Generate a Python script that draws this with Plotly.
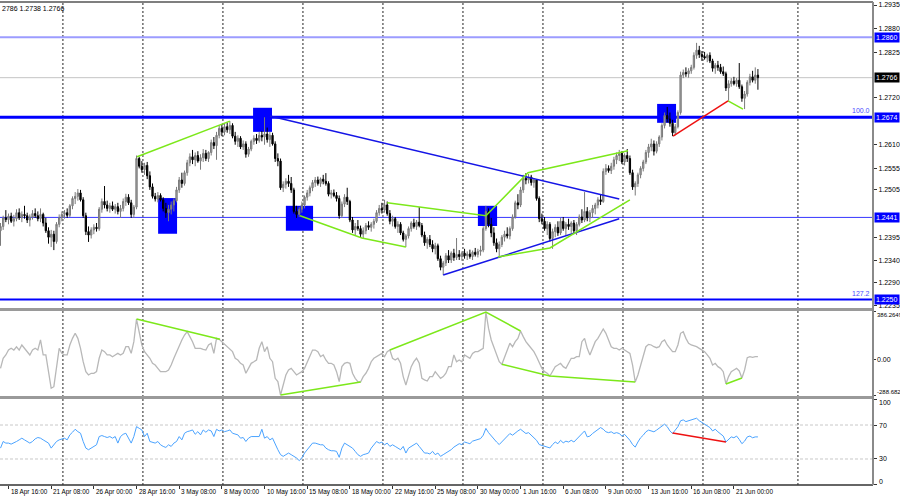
import plotly.graph_objects as go

# ---------------- data (4H bars) ----------------
opens = [
1.2410,1.2420,1.2440,1.2436,1.2444,1.2432,1.2438,1.2452,1.2440,1.2448,
1.2445,1.2435,1.2442,1.2450,1.2445,1.2438,1.2448,1.2428,1.2410,1.2395,
1.2402,1.2385,1.2425,1.2440,1.2448,1.2452,1.2446,1.2468,1.2485,1.2490,
1.2498,1.2482,1.2445,1.2408,1.2400,1.2412,1.2418,1.2415,1.2460,1.2478,
1.2470,1.2462,1.2468,1.2460,1.2466,1.2455,1.2462,1.2478,1.2488,1.2475,
1.2448,1.2465,1.2578,1.2560,1.2552,1.2562,1.2538,1.2512,1.2490,1.2484,
1.2492,1.2482,1.2462,1.2452,1.2460,1.2470,1.2480,1.2505,1.2528,1.2520,
1.2545,1.2568,1.2582,1.2575,1.2585,1.2572,1.2580,1.2590,1.2578,1.2592,
1.2615,1.2608,1.2632,1.2648,1.2640,1.2652,1.2645,1.2655,1.2630,1.2618,
1.2625,1.2605,1.2612,1.2588,1.2600,1.2618,1.2625,1.2620,1.2632,1.2628,
1.2635,1.2622,1.2632,1.2612,1.2578,1.2572,1.2510,1.2518,1.2525,1.2520,
1.2505,1.2455,1.2448,1.2460,1.2470,1.2488,1.2498,1.2510,1.2522,1.2528,
1.2520,1.2530,1.2525,1.2520,1.2495,1.2498,1.2492,1.2485,1.2445,1.2472,
1.2488,1.2478,1.2435,1.2412,1.2420,1.2415,1.2402,1.2410,1.2422,1.2418,
1.2425,1.2432,1.2452,1.2462,1.2458,1.2470,1.2450,1.2432,1.2438,1.2420,
1.2425,1.2405,1.2390,1.2398,1.2415,1.2428,1.2420,1.2430,1.2422,1.2400,
1.2382,1.2390,1.2378,1.2368,1.2375,1.2345,1.2325,1.2335,1.2352,1.2342,
1.2358,1.2348,1.2355,1.2350,1.2358,1.2352,1.2356,1.2350,1.2360,1.2355,
1.2362,1.2365,1.2415,1.2455,1.2425,1.2405,1.2382,1.2368,1.2378,1.2395,
1.2402,1.2398,1.2415,1.2442,1.2475,1.2470,1.2505,1.2532,1.2528,1.2535,
1.2522,1.2528,1.2485,1.2438,1.2432,1.2415,1.2425,1.2392,1.2408,1.2418,
1.2405,1.2432,1.2415,1.2425,1.2420,1.2428,1.2410,1.2425,1.2442,1.2435,
1.2455,1.2440,1.2452,1.2462,1.2470,1.2482,1.2478,1.2548,1.2555,1.2550,
1.2560,1.2575,1.2585,1.2590,1.2570,1.2585,1.2578,1.2545,1.2512,1.2520,
1.2540,1.2555,1.2570,1.2592,1.2605,1.2612,1.2595,1.2612,1.2628,1.2655,
1.2678,1.2670,1.2660,1.2638,1.2652,1.2685,1.2772,1.2778,1.2775,1.2782,
1.2790,1.2818,1.2830,1.2820,1.2815,1.2812,1.2818,1.2805,1.2788,1.2795,
1.2790,1.2780,1.2775,1.2742,1.2752,1.2758,1.2752,1.2760,1.2745,1.2718,
1.2728,1.2755,1.2768,1.2760,1.2772]
highs = [
1.2428,1.2445,1.2458,1.2450,1.2452,1.2447,1.2460,1.2462,1.2455,1.2468,
1.2452,1.2448,1.2458,1.2462,1.2455,1.2462,1.2452,1.2440,1.2418,1.2412,
1.2410,1.2430,1.2448,1.2455,1.2458,1.2462,1.2472,1.2490,1.2500,1.2507,
1.2505,1.2488,1.2452,1.2420,1.2418,1.2425,1.2428,1.2465,1.2485,1.2514,
1.2480,1.2475,1.2478,1.2472,1.2475,1.2470,1.2485,1.2496,1.2495,1.2482,
1.2470,1.2585,1.2582,1.2572,1.2568,1.2570,1.2548,1.2520,1.2498,1.2500,
1.2497,1.2488,1.2475,1.2470,1.2478,1.2485,1.2512,1.2535,1.2545,1.2550,
1.2575,1.2590,1.2598,1.2592,1.2595,1.2588,1.2600,1.2598,1.2595,1.2622,
1.2628,1.2640,1.2655,1.2658,1.2660,1.2662,1.2665,1.2660,1.2640,1.2632,
1.2630,1.2620,1.2618,1.2605,1.2622,1.2632,1.2635,1.2640,1.2642,1.2674,
1.2650,1.2640,1.2638,1.2618,1.2590,1.2578,1.2525,1.2532,1.2540,1.2535,
1.2510,1.2468,1.2465,1.2478,1.2492,1.2505,1.2515,1.2528,1.2535,1.2536,
1.2534,1.2540,1.2544,1.2525,1.2505,1.2506,1.2500,1.2492,1.2478,1.2495,
1.2510,1.2482,1.2442,1.2428,1.2435,1.2422,1.2418,1.2428,1.2432,1.2430,
1.2438,1.2458,1.2470,1.2475,1.2482,1.2478,1.2458,1.2445,1.2442,1.2432,
1.2430,1.2410,1.2402,1.2420,1.2432,1.2438,1.2435,1.2465,1.2428,1.2408,
1.2395,1.2400,1.2388,1.2382,1.2380,1.2352,1.2340,1.2358,1.2365,1.2362,
1.2368,1.2393,1.2365,1.2362,1.2368,1.2362,1.2366,1.2364,1.2370,1.2368,
1.2375,1.2420,1.2468,1.2462,1.2440,1.2418,1.2392,1.2385,1.2400,1.2410,
1.2418,1.2420,1.2448,1.2480,1.2495,1.2512,1.2540,1.2544,1.2542,1.2540,
1.2532,1.2530,1.2490,1.2450,1.2442,1.2432,1.2430,1.2415,1.2425,1.2432,
1.2440,1.2442,1.2430,1.2438,1.2432,1.2435,1.2430,1.2448,1.2460,1.2500,
1.2465,1.2458,1.2470,1.2475,1.2488,1.2495,1.2555,1.2565,1.2562,1.2568,
1.2582,1.2592,1.2598,1.2595,1.2590,1.2600,1.2585,1.2552,1.2525,1.2545,
1.2560,1.2575,1.2598,1.2612,1.2624,1.2620,1.2618,1.2632,1.2660,1.2685,
1.2698,1.2685,1.2668,1.2658,1.2690,1.2780,1.2785,1.2790,1.2788,1.2796,
1.2825,1.2847,1.2840,1.2828,1.2826,1.2822,1.2825,1.2810,1.2800,1.2805,
1.2798,1.2792,1.2780,1.2760,1.2765,1.2768,1.2765,1.2800,1.2750,1.2735,
1.2760,1.2775,1.2782,1.2790,1.2786]
lows = [
1.2375,1.2412,1.2430,1.2425,1.2428,1.2420,1.2432,1.2435,1.2430,1.2438,
1.2428,1.2420,1.2436,1.2440,1.2432,1.2430,1.2420,1.2405,1.2380,1.2372,
1.2365,1.2380,1.2418,1.2432,1.2438,1.2440,1.2442,1.2460,1.2472,1.2480,
1.2478,1.2440,1.2400,1.2384,1.2392,1.2402,1.2408,1.2410,1.2452,1.2462,
1.2455,1.2452,1.2456,1.2450,1.2448,1.2440,1.2455,1.2468,1.2470,1.2440,
1.2440,1.2460,1.2555,1.2545,1.2540,1.2530,1.2505,1.2485,1.2478,1.2476,
1.2478,1.2455,1.2440,1.2432,1.2448,1.2455,1.2476,1.2498,1.2510,1.2515,
1.2538,1.2560,1.2565,1.2560,1.2568,1.2552,1.2570,1.2572,1.2570,1.2585,
1.2600,1.2575,1.2625,1.2630,1.2632,1.2638,1.2635,1.2625,1.2610,1.2605,
1.2600,1.2598,1.2580,1.2582,1.2595,1.2610,1.2612,1.2615,1.2618,1.2610,
1.2615,1.2605,1.2608,1.2570,1.2560,1.2505,1.2500,1.2508,1.2512,1.2498,
1.2450,1.2440,1.2442,1.2452,1.2462,1.2480,1.2490,1.2502,1.2512,1.2515,
1.2512,1.2518,1.2515,1.2490,1.2485,1.2488,1.2478,1.2438,1.2440,1.2465,
1.2470,1.2430,1.2405,1.2400,1.2410,1.2395,1.2393,1.2402,1.2412,1.2408,
1.2415,1.2428,1.2445,1.2450,1.2452,1.2445,1.2425,1.2420,1.2415,1.2405,
1.2400,1.2385,1.2372,1.2392,1.2408,1.2415,1.2412,1.2418,1.2395,1.2375,
1.2368,1.2372,1.2360,1.2355,1.2340,1.2318,1.2307,1.2328,1.2335,1.2335,
1.2340,1.2342,1.2342,1.2340,1.2345,1.2342,1.2345,1.2342,1.2350,1.2348,
1.2352,1.2360,1.2410,1.2418,1.2395,1.2375,1.2360,1.2349,1.2372,1.2385,
1.2392,1.2390,1.2410,1.2438,1.2460,1.2465,1.2498,1.2518,1.2520,1.2515,
1.2510,1.2480,1.2430,1.2425,1.2410,1.2400,1.2385,1.2368,1.2395,1.2398,
1.2400,1.2410,1.2398,1.2412,1.2405,1.2402,1.2400,1.2420,1.2428,1.2430,
1.2432,1.2430,1.2440,1.2448,1.2462,1.2470,1.2475,1.2540,1.2545,1.2542,
1.2552,1.2565,1.2572,1.2565,1.2562,1.2570,1.2540,1.2505,1.2492,1.2512,
1.2532,1.2548,1.2565,1.2580,1.2595,1.2585,1.2590,1.2605,1.2620,1.2648,
1.2662,1.2652,1.2630,1.2632,1.2648,1.2680,1.2765,1.2768,1.2766,1.2775,
1.2785,1.2810,1.2812,1.2805,1.2808,1.2802,1.2800,1.2780,1.2775,1.2782,
1.2775,1.2770,1.2735,1.2712,1.2745,1.2748,1.2745,1.2740,1.2710,1.2693,
1.2722,1.2748,1.2755,1.2752,1.2738]
closes = [
1.2420,1.2440,1.2436,1.2444,1.2432,1.2438,1.2452,1.2440,1.2448,1.2445,
1.2435,1.2442,1.2450,1.2445,1.2438,1.2448,1.2428,1.2410,1.2395,1.2402,
1.2385,1.2425,1.2440,1.2448,1.2452,1.2446,1.2468,1.2485,1.2490,1.2498,
1.2482,1.2445,1.2408,1.2400,1.2412,1.2418,1.2415,1.2460,1.2478,1.2470,
1.2462,1.2468,1.2460,1.2466,1.2455,1.2462,1.2478,1.2488,1.2475,1.2448,
1.2465,1.2578,1.2560,1.2552,1.2562,1.2538,1.2512,1.2490,1.2484,1.2492,
1.2482,1.2462,1.2452,1.2460,1.2470,1.2480,1.2505,1.2528,1.2520,1.2545,
1.2568,1.2582,1.2575,1.2585,1.2572,1.2580,1.2590,1.2578,1.2592,1.2615,
1.2608,1.2632,1.2648,1.2640,1.2652,1.2645,1.2655,1.2630,1.2618,1.2625,
1.2605,1.2612,1.2588,1.2600,1.2618,1.2625,1.2620,1.2632,1.2628,1.2635,
1.2622,1.2632,1.2612,1.2578,1.2572,1.2510,1.2518,1.2525,1.2520,1.2505,
1.2455,1.2448,1.2460,1.2470,1.2488,1.2498,1.2510,1.2522,1.2528,1.2520,
1.2530,1.2525,1.2520,1.2495,1.2498,1.2492,1.2485,1.2445,1.2472,1.2488,
1.2478,1.2435,1.2412,1.2420,1.2415,1.2402,1.2410,1.2422,1.2418,1.2425,
1.2432,1.2452,1.2462,1.2458,1.2470,1.2450,1.2432,1.2438,1.2420,1.2425,
1.2405,1.2390,1.2398,1.2415,1.2428,1.2420,1.2430,1.2422,1.2400,1.2382,
1.2390,1.2378,1.2368,1.2375,1.2345,1.2325,1.2335,1.2352,1.2342,1.2358,
1.2348,1.2355,1.2350,1.2358,1.2352,1.2356,1.2350,1.2360,1.2355,1.2362,
1.2365,1.2415,1.2455,1.2425,1.2405,1.2382,1.2368,1.2378,1.2395,1.2402,
1.2398,1.2415,1.2442,1.2475,1.2470,1.2505,1.2532,1.2528,1.2535,1.2522,
1.2528,1.2485,1.2438,1.2432,1.2415,1.2425,1.2392,1.2408,1.2418,1.2405,
1.2432,1.2415,1.2425,1.2420,1.2428,1.2410,1.2425,1.2442,1.2435,1.2455,
1.2440,1.2452,1.2462,1.2470,1.2482,1.2478,1.2548,1.2555,1.2550,1.2560,
1.2575,1.2585,1.2590,1.2570,1.2585,1.2578,1.2545,1.2512,1.2520,1.2540,
1.2555,1.2570,1.2592,1.2605,1.2612,1.2595,1.2612,1.2628,1.2655,1.2678,
1.2670,1.2660,1.2638,1.2652,1.2685,1.2772,1.2778,1.2775,1.2782,1.2790,
1.2818,1.2830,1.2820,1.2815,1.2812,1.2818,1.2805,1.2788,1.2795,1.2790,
1.2780,1.2775,1.2742,1.2752,1.2758,1.2752,1.2760,1.2745,1.2718,1.2728,
1.2755,1.2768,1.2760,1.2772,1.2766]

cci = [
-72,10,37,77,91,77,104,77,118,91,
64,37,77,91,77,159,37,37,-99,-234,
-221,-45,91,50,37,37,118,172,213,172,
91,-18,-99,-126,-112,-112,-99,10,77,64,
37,37,23,37,50,37,50,104,104,50,
145,329,226,118,64,37,10,-31,-45,-72,
-99,-99,-99,-85,-45,10,64,118,159,199,
226,186,145,91,91,91,83,77,118,132,
50,172,164,145,118,104,83,64,10,-4,
-31,-45,-112,-72,-31,-18,-4,91,145,64,
104,10,-18,-153,-180,-288.68,-207,-126,-85,-72,
-99,-126,-112,-99,-72,-18,37,77,77,64,
23,37,-4,-31,-31,-45,-99,-180,-58,-31,
-23,-31,-112,-153,-180,-183,-139,-112,-72,-18,
10,23,37,50,23,64,77,10,-4,10,
-31,-139,-207,-139,-58,-18,10,-31,-153,-166,
-175,-139,-139,-99,-126,-153,-139,-112,-58,-58,
37,-18,-4,-18,37,23,10,50,64,64,
77,91,386.26,253,159,104,50,-18,-39,23,
77,132,104,145,172,232,186,145,118,91,
64,23,-31,-72,-99,-112,-134,-99,-58,-45,
-31,-58,-72,-31,10,10,23,23,145,172,
91,37,91,145,172,213,248,213,159,104,
91,91,77,91,77,64,50,-45,-183,-126,
-45,37,104,123,118,104,96,104,145,159,
118,91,64,64,118,213,226,172,132,118,
112,104,91,77,64,37,10,-45,-31,-58,
-72,-99,-199,-139,-99,-85,-72,-93,-150,-85,
15,23,18,23,23]

rsi = [
42.8,50.6,48.7,48.7,47.5,48.7,50.6,52.5,54.5,52.5,
50.6,48.7,50.6,53.7,55.3,54.5,52.5,50.6,48.7,42.8,
46.7,50.6,52.5,53.7,54.5,52.5,58.4,61.5,65,62.2,
60.3,50.6,42.8,40.9,42.8,44.8,46.7,56.4,57.6,56.4,
55.3,56.4,54.5,56.4,48.7,56.4,59.1,60.3,54.5,48.7,
56.4,68.1,66.1,64.2,56.4,60.3,50.6,49.8,48.7,50.6,
46.7,44.8,43.6,46.7,44.8,48.7,50.6,56.4,52.5,60.3,
62.2,63,64.2,59.1,62.2,58.4,64.2,61.5,64.2,63,
56.4,65,63,64.2,62.2,63,64.2,60.3,59.1,58.4,
54.5,55.3,50.6,54.5,56.4,56.4,55.6,56.4,65,54.5,
56.4,52.5,54.5,46.7,40.9,35.1,33.1,35.1,37,35.1,
33.1,31.2,28.1,31.2,37,40.9,44.8,48.7,48.7,47.5,
46.7,46.7,42.8,40.9,39.7,39.7,39,32,42.8,48.7,
46.7,44.8,42.8,39,35.1,33.1,35.1,35.9,37,42.8,
46.7,50.6,48.7,49.8,46.7,48.7,44.8,46.7,44.8,42.8,
40.9,44.8,37,42.8,44.8,46.7,48.7,44.8,40.9,37,
37,35.9,39,35.1,37,33.1,35.1,37,39,
41,44,46,48,47,50,49,48,51,52,53,
54,58,66,61,57,53,50,47,50,54,
57,60,58,61,63,65,62,60,61,58,
56,52,47,46,45,44,43,47,50,48,
52,49,51,50,52,50,53,56,59,63,
56,57,60,62,65,67,65,62,61,62,
60,61,60,57,59,56,52,47,44,50,
55,58,62,64,63,62,64,66,68,71,
68,63,60,64,68,75,76,74,75,76,
77,78,75,73,72,70,67,63,65,62,
60,57,50,53,56,55,57,53,48,51,
56,57,55,56,56]

tick_bars = [-13, 3, 19, 35, 51, 67, 83, 99, 115, 131, 147, 163, 179, 195, 211, 227, 243, 259, 275]
tick_labels = ["14 Apr 00:00", "18 Apr 16:00", "21 Apr 08:00", "26 Apr 00:00", "28 Apr 16:00",
               "3 May 08:00", "8 May 00:00", "10 May 16:00", "15 May 08:00", "18 May 00:00",
               "22 May 16:00", "25 May 08:00", "30 May 00:00", "1 Jun 16:00", "6 Jun 08:00",
               "9 Jun 00:00", "13 Jun 16:00", "16 Jun 08:00", "21 Jun 00:00"]
grid_bars = [23.4, 53.4, 83.4, 113.4, 143.4, 173.4, 203.4, 233.4, 263.4, 299.0]

price_ticks = [1.2935, 1.2880, 1.2825, 1.2720, 1.2610, 1.2555, 1.2505, 1.2395, 1.2340, 1.2290, 1.2235]
levels = [1.2860, 1.2766, 1.2674, 1.2441, 1.2250]
level_labels = ["1.2860", "1.2766", "1.2674", "1.2441", "1.2250"]
level_colors = ["#9c9cff", "#c4c4c4", "#0000ff", "#3636ff", "#0000ff"]
level_widths = [2, 1, 3, 1, 2]
level_box = ["#0000ff", "#000000", "#0000ff", "#0000ff", "#0000ff"]

cci_ticks = [386.2649, 0, -288.682]
cci_labels = ["386.2649", "0.00", "-288.682"]
rsi_ticks = [100, 70, 30, 0]
rsi_labels = ["100", "70", "30", "0"]

# zones: (bar start, bar end, price top, price bottom)
zones = [(59.1, 66.2, 1.2486, 1.2403), (94.7, 101.8, 1.2696, 1.2640), (107.0, 117.2, 1.2468, 1.2410),
         (179.0, 186.2, 1.2468, 1.2421), (246.2, 253.3, 1.2705, 1.2661)]
blue_lines = [[(101, 1.2677), (232, 1.2484)], [(166, 1.2307), (232, 1.2438)]]
green_price = [[(51.2, 1.2582), (86, 1.2665)],
               [(112.3, 1.2445), (135.5, 1.2393), (152, 1.2372)],
               [(145, 1.2475), (182, 1.2445), (197.8, 1.2545), (235.3, 1.2596)],
               [(186.5, 1.2349), (206, 1.2370), (236, 1.2482)],
               [(272.8, 1.2712), (278.4, 1.2693)]]
red_price = [(252.2, 1.2630), (272.8, 1.2712)]
green_cci = [[(51, 329), (82.3, 164)], [(105, -288.68), (135, -183)],
             [(146, 77), (182, 386.26), (195, 232)],
             [(188, -39), (206, -134), (238, -183)], [(272, -199), (278, -150)]]
red_rsi = [(252, 60.6), (272, 50)]

FONT = "Liberation Sans"
FS = 7
XFS = 6.4
bars = list(range(len(closes)))

fig = go.Figure()
fig.add_trace(go.Candlestick(
    x=bars, open=opens, high=highs, low=lows, close=closes,
    increasing=dict(line=dict(color="#7a7a7a", width=1), fillcolor="#a8a8a8"),
    decreasing=dict(line=dict(color="#000000", width=1), fillcolor="#000000"),
    whiskerwidth=0, xaxis="x", yaxis="y", hoverinfo="skip"))

def add_poly(pts, color, yaxis, width=1.5):
    fig.add_trace(go.Scatter(x=[p[0] for p in pts], y=[p[1] for p in pts], mode="lines",
                             line=dict(color=color, width=width), xaxis="x", yaxis=yaxis,
                             hoverinfo="skip"))

for pts in blue_lines:
    add_poly(pts, "#1515e6", "y", 1.5)
for pts in green_price:
    add_poly(pts, "#7ce81a", "y", 1.5)
add_poly(red_price, "#ee1111", "y", 1.5)

fig.add_trace(go.Scatter(x=bars, y=cci, mode="lines", line=dict(color="#b8b8b8", width=1.3),
                         xaxis="x", yaxis="y2", hoverinfo="skip"))
for pts in green_cci:
    add_poly(pts, "#7ce81a", "y2", 1.5)

fig.add_trace(go.Scatter(x=bars, y=rsi, mode="lines", line=dict(color="#4aa3ff", width=1),
                         xaxis="x", yaxis="y3", hoverinfo="skip"))
add_poly(red_rsi, "#ee1111", "y3", 1.5)

shapes = []
for gb in grid_bars:
    shapes.append(dict(type="line", xref="x", yref="paper", x0=gb, x1=gb, y0=0, y1=1,
                       line=dict(color="#222222", width=1, dash="2px,2px"), layer="below"))
for x0, x1, top, bot in zones:
    shapes.append(dict(type="rect", xref="x", yref="y", x0=x0, x1=x1, y0=bot, y1=top,
                       fillcolor="#0000ff", line=dict(width=0), layer="below"))
for lv, col, w in zip(levels, level_colors, level_widths):
    shapes.append(dict(type="line", xref="paper", yref="y", x0=0, x1=1, y0=lv, y1=lv,
                       line=dict(color=col, width=w), layer="below"))
for lv in (70, 30):
    shapes.append(dict(type="line", xref="paper", yref="y3", x0=0, x1=1, y0=lv, y1=lv,
                       line=dict(color="#c8c8c8", width=1, dash="3px,2px"), layer="below"))
shapes += [
    dict(type="line", xref="paper", yref="paper", x0=0, x1=1, y0=1, y1=1, line=dict(color="#555555", width=1.5)),
    dict(type="line", xref="paper", yref="paper", x0=0, x1=1, y0=0.3634, y1=0.3634, line=dict(color="#9a9a9a", width=3)),
    dict(type="line", xref="paper", yref="paper", x0=0, x1=1, y0=0.18116, y1=0.18116, line=dict(color="#9a9a9a", width=3)),
    dict(type="line", xref="paper", yref="paper", x0=0, x1=1, y0=0, y1=0, line=dict(color="#333333", width=1.5)),
    dict(type="line", xref="paper", yref="paper", x0=1, x1=1, y0=0, y1=1, line=dict(color="#8a8a8a", width=2)),
]

ann = []
for b, t in zip(tick_bars, tick_labels):
    ann.append(dict(x=b, xref="x", y=0, yref="paper", yanchor="top", xanchor="left", yshift=-1,
                    text=t, showarrow=False, font=dict(family=FONT, size=XFS, color="black")))
for lv, t, bg in zip(levels, level_labels, level_box):
    ann.append(dict(x=1, xref="paper", y=lv, yref="y", xanchor="left", yanchor="middle", xshift=1,
                    text=t, showarrow=False, bgcolor=bg, borderpad=1,
                    font=dict(family=FONT, size=FS, color="white")))
# indicator scale labels (MT4 keeps the end labels inside the pane)
cci_shift = [-3, 0, 3]
cci_size = [6, FS, 6]
for v, t, s, fs in zip(cci_ticks, cci_labels, cci_shift, cci_size):
    ann.append(dict(x=1, xref="paper", y=v, yref="y2", xanchor="left", yanchor="middle", xshift=2, yshift=s,
                    text=t, showarrow=False, font=dict(family=FONT, size=fs, color="black")))
rsi_shift = [-3, 0, 0, 3]
for v, t, s in zip(rsi_ticks, rsi_labels, rsi_shift):
    ann.append(dict(x=1, xref="paper", y=v, yref="y3", xanchor="left", yanchor="middle", xshift=4, yshift=s,
                    text=t, showarrow=False, font=dict(family=FONT, size=FS, color="black")))
ann.append(dict(x=1, xref="paper", y=1.2674, yref="y", xanchor="right", yanchor="bottom", xshift=-1, yshift=1,
                text="100.0", showarrow=False, font=dict(family=FONT, size=FS, color="#4a4aff")))
ann.append(dict(x=1, xref="paper", y=1.2250, yref="y", xanchor="right", yanchor="bottom", xshift=-1, yshift=1,
                text="127.2", showarrow=False, font=dict(family=FONT, size=FS, color="#4a4aff")))
ann.append(dict(x=0, xref="paper", y=1, yref="paper", xanchor="left", yanchor="top", yshift=-1,
                text="2786 1.2738 1.2766", showarrow=False, font=dict(family=FONT, size=FS, color="black")))

tickfont = dict(family=FONT, size=FS, color="black")
fig.update_layout(
    width=900, height=500, margin=dict(l=0, r=27, t=2, b=15, autoexpand=False),
    paper_bgcolor="white", plot_bgcolor="white", showlegend=False,
    font=dict(family=FONT, size=FS, color="black"),
    xaxis=dict(domain=[0, 1], range=[-0.19, 327.15], anchor="y3", rangeslider=dict(visible=False),
               showgrid=False, zeroline=False, tickvals=tick_bars[1:], ticks="outside", ticklen=3,
               tickcolor="#333333", showticklabels=False, fixedrange=True, automargin=False),
    yaxis=dict(domain=[0.36439, 0.99793], range=[1.22280, 1.29397], side="right", anchor="x",
               tickvals=price_ticks, ticktext=[f"{v:.4f}" for v in price_ticks], ticks="outside",
               ticklen=3, tickcolor="#333333", showgrid=False, zeroline=False, tickfont=tickfont,
               automargin=False),
    yaxis2=dict(domain=[0.18427, 0.36025], range=[-296.7, 394.4], side="right", anchor="x",
                tickvals=cci_ticks, ticks="outside", ticklen=2, tickcolor="#333333",
                showticklabels=False, showgrid=False, zeroline=False, automargin=False),
    yaxis3=dict(domain=[0, 0.17805], range=[-0.6, 100.6], side="right", anchor="x",
                tickvals=rsi_ticks, ticks="outside", ticklen=3, tickcolor="#333333",
                showticklabels=False, showgrid=False, zeroline=False, automargin=False),
    shapes=shapes, annotations=ann,
)

fig.write_html("out.html", config={"displayModeBar": False},
               post_script="document.body.style.margin='0';document.body.style.padding='0';")
